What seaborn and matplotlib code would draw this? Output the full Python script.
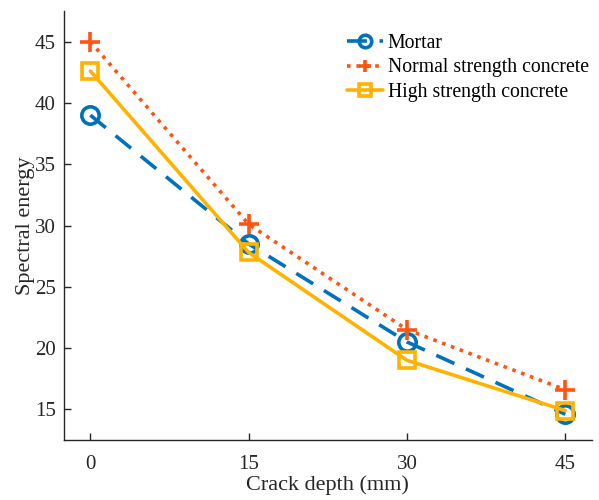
import matplotlib
matplotlib.use("Agg")
import matplotlib.pyplot as plt
import seaborn as sns
import pandas as pd

# Crack depth values (mm)
crack_depth = [0, 15, 30, 45]
# Spectral energy per material
mortar = [39.0, 28.5, 20.5, 14.6]
normal_concrete = [45.0, 30.1, 21.5, 16.6]
high_concrete = [42.6, 27.8, 19.0, 14.9]

series_names = ["Mortar", "Normal strength concrete", "High strength concrete"]

sns.set_theme(style="ticks")
plt.rcParams["font.family"] = ["Liberation Serif", "DejaVu Serif"]

df = pd.DataFrame({
    "depth": crack_depth * 3,
    "energy": mortar + normal_concrete + high_concrete,
    "material": [series_names[0]] * 4 + [series_names[1]] * 4 + [series_names[2]] * 4,
})

fig = plt.figure(figsize=(5.99, 5.0), dpi=100)
ax = fig.add_axes([0.1068, 0.12, 0.881, 0.858])

styles = {
    "Mortar": dict(color="#0072BD", marker="o", ls=(0, (5.5, 3.5)), ms=12.5),
    "Normal strength concrete": dict(color="#FF5412", marker="+", ls=(0, (1.0, 1.6)), ms=15),
    "High strength concrete": dict(color="#FFB300", marker="s", ls="-", ms=12),
}

for name in series_names:
    st = styles[name]
    sub = df[df["material"] == name]
    sns.lineplot(data=sub, x="depth", y="energy", ax=ax, label=name,
                 color=st["color"], marker=st["marker"], linestyle=st["ls"],
                 markerfacecolor="none", markeredgecolor=st["color"],
                 markersize=st["ms"], markeredgewidth=2.6, linewidth=2.6,
                 errorbar=None)

ax.set_xlim(-2.5, 47.5)
ax.set_ylim(12.5, 47.5)
ax.set_xticks(crack_depth)
ax.set_yticks([15, 20, 25, 30, 35, 40, 45])
ax.tick_params(direction="in", length=5, width=1.0, labelsize=15,
               colors="#262626")
ax.tick_params(axis="x", pad=11)
ax.tick_params(axis="y", pad=6)
for side in ("top", "right"):
    ax.spines[side].set_visible(False)
for side in ("left", "bottom"):
    ax.spines[side].set_color("#262626")
    ax.spines[side].set_linewidth(1.0)

ax.set_xlabel("Crack depth (mm)", fontsize=16, color="#262626", labelpad=1)
ax.set_ylabel("Spectral energy", fontsize=16, color="#262626", labelpad=0)

leg = ax.legend(loc="upper left", bbox_to_anchor=(0.522, 0.965), frameon=False,
                fontsize=14.2, handlelength=1.8, handletextpad=0.25,
                labelspacing=0.28, borderaxespad=0.0)
for h in leg.legend_handles:
    h.set_markersize(9)
for t in leg.get_texts():
    t.set_color("black")

fig.savefig("out.png", dpi=100)
